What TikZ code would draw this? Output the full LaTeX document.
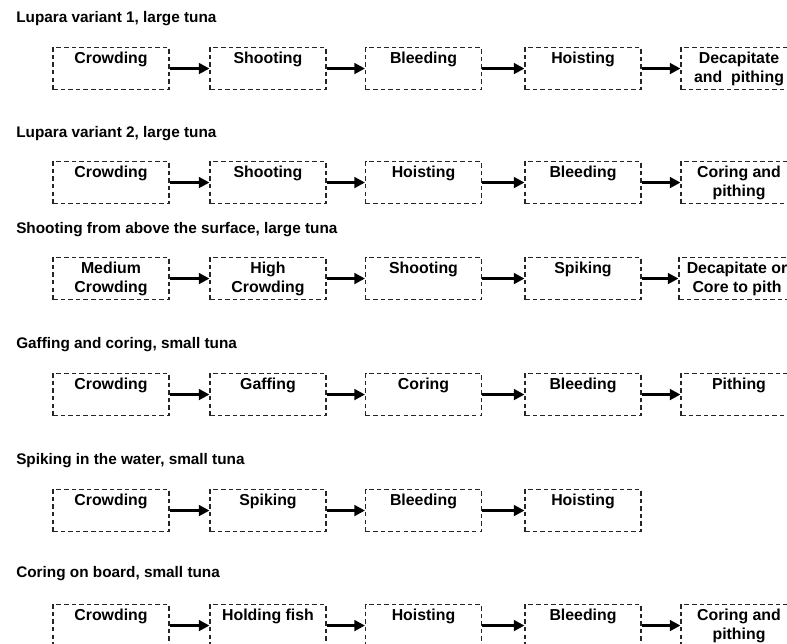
\documentclass[tikz,border=0pt]{standalone}
\usepackage{fontspec}
\setmainfont{Liberation Sans}
\usetikzlibrary{arrows.meta}

\begin{document}
\begin{tikzpicture}[x=0.75pt,y=0.75pt,yscale=-1,xscale=1,
  stepbox/.style={draw=black!85, line width=0.8pt, dash pattern=on 3.4pt off 2.3pt,
    anchor=north, minimum width=87pt, inner xsep=0pt, inner ysep=0pt,
    text height=11.6pt, text depth=19.9pt, align=center,
    font=\bfseries\fontsize{11.9}{14.6}\selectfont},
  twoline/.style={stepbox, text height=26.2pt, text depth=5.3pt},
  heading/.style={anchor=west, inner sep=0pt, font=\bfseries\fontsize{11.5}{13}\selectfont},
  flow/.style={line width=2.6pt, -{Triangle[length=8pt,width=8pt]}}]
\useasboundingbox (0,0) rectangle (787,643);

% Text Node
\node [heading] (title1) at (16,19) {Lupara variant 1, large tuna};
% Text Node
\node [heading] (title2) at (16,134) {Lupara variant 2, large tuna};
% Text Node
\node [heading] (title3) at (16,230) {Shooting from above the surface, large tuna};
% Text Node
\node [heading] (title4) at (16,345) {Gaffing and coring, small tuna};
% Text Node
\node [heading] (title5) at (16,461) {Spiking in the water, small tuna};
% Text Node
\node [heading] (title6) at (16,574) {Coring on board, small tuna};

%Lupara variant 1
\node [stepbox] (a1) at (111,47) {Crowding};
\node [stepbox] (a2) at (268,47) {Shooting};
\node [stepbox] (a3) at (423.5,47) {Bleeding};
\node [stepbox] (a4) at (583,47) {Hoisting};
\node [twoline] (a5) at (739,47) {Decapitate\\and~~pithing};
\draw [flow] (a1.east) -- (a2.west);
\draw [flow] (a2.east) -- (a3.west);
\draw [flow] (a3.east) -- (a4.west);
\draw [flow] (a4.east) -- (a5.west);

%Lupara variant 2
\node [stepbox] (b1) at (111,161) {Crowding};
\node [stepbox] (b2) at (268,161) {Shooting};
\node [stepbox] (b3) at (423.5,161) {Hoisting};
\node [stepbox] (b4) at (583,161) {Bleeding};
\node [twoline] (b5) at (739,161) {Coring and\\pithing};
\draw [flow] (b1.east) -- (b2.west);
\draw [flow] (b2.east) -- (b3.west);
\draw [flow] (b3.east) -- (b4.west);
\draw [flow] (b4.east) -- (b5.west);

%Shooting from above the surface
\node [twoline] (c1) at (111,257) {Medium\\Crowding};
\node [twoline] (c2) at (268,257) {High\\Crowding};
\node [stepbox] (c3) at (423.5,257) {Shooting};
\node [stepbox] (c4) at (583,257) {Spiking};
\node [twoline] (c5) at (737,257) {Decapitate or\\Core to pith};
\draw [flow] (c1.east) -- (c2.west);
\draw [flow] (c2.east) -- (c3.west);
\draw [flow] (c3.east) -- (c4.west);
\draw [flow] (c4.east) -- (c5.west);

%Gaffing and coring
\node [stepbox] (d1) at (111,373) {Crowding};
\node [stepbox] (d2) at (268,373) {Gaffing};
\node [stepbox] (d3) at (423.5,373) {Coring};
\node [stepbox] (d4) at (583,373) {Bleeding};
\node [stepbox] (d5) at (739,373) {Pithing};
\draw [flow] (d1.east) -- (d2.west);
\draw [flow] (d2.east) -- (d3.west);
\draw [flow] (d3.east) -- (d4.west);
\draw [flow] (d4.east) -- (d5.west);

%Spiking in the water
\node [stepbox] (e1) at (111,489) {Crowding};
\node [stepbox] (e2) at (268,489) {Spiking};
\node [stepbox] (e3) at (423.5,489) {Bleeding};
\node [stepbox] (e4) at (583,489) {Hoisting};
\draw [flow] (e1.east) -- (e2.west);
\draw [flow] (e2.east) -- (e3.west);
\draw [flow] (e3.east) -- (e4.west);

%Coring on board
\node [stepbox] (f1) at (111,604) {Crowding};
\node [stepbox] (f2) at (268,604) {Holding fish};
\node [stepbox] (f3) at (423.5,604) {Hoisting};
\node [stepbox] (f4) at (583,604) {Bleeding};
\node [twoline] (f5) at (739,604) {Coring and\\pithing};
\draw [flow] (f1.east) -- (f2.west);
\draw [flow] (f2.east) -- (f3.west);
\draw [flow] (f3.east) -- (f4.west);
\draw [flow] (f4.east) -- (f5.west);

\end{tikzpicture}
\end{document}
